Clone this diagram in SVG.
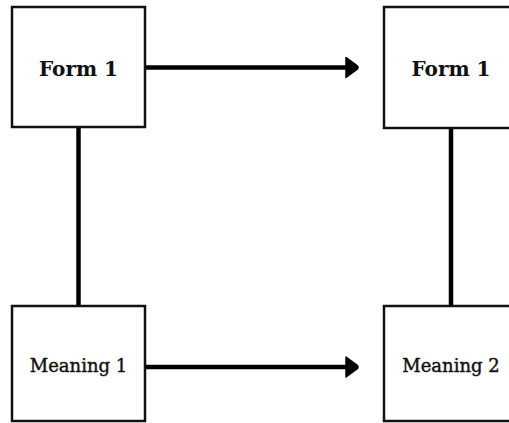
<svg xmlns="http://www.w3.org/2000/svg" width="509" height="423" viewBox="0 0 509 423">
<style>
.box{fill:#fff;stroke:#111;stroke-width:2.5}
.lbl{font-family:"DejaVu Serif","Liberation Serif",serif;fill:#111;text-anchor:middle}
.f{font-size:20px;font-weight:bold}
.m{font-size:18px;stroke:#111;stroke-width:0.4}
.c{stroke:#000;stroke-width:4.5;fill:none}
</style>
<defs>
<marker id="ah" markerUnits="userSpaceOnUse" markerWidth="16" markerHeight="22" refX="2" refY="11" orient="auto">
<path d="M2,1 L13,9 Q15,11 13,13 L2,21 Z" fill="#000" stroke="#000" stroke-width="1.5" stroke-linejoin="round"/>
</marker>
</defs>
<g id="connectors">
<line class="c" x1="146" y1="67.5" x2="346" y2="67.5" marker-end="url(#ah)"/>
<line class="c" x1="146" y1="367" x2="346" y2="367" marker-end="url(#ah)"/>
<line class="c" x1="78.5" y1="127" x2="78.5" y2="306"/>
<line class="c" x1="451" y1="128" x2="451" y2="306"/>
</g>
<g id="form1a"><rect class="box" x="12" y="7" width="133" height="120"/><text class="lbl f" x="78.5" y="76">Form 1</text></g>
<g id="form1b"><rect class="box" x="384" y="7" width="134" height="121"/><text class="lbl f" x="451" y="76">Form 1</text></g>
<g id="meaning1"><rect class="box" x="12" y="306" width="133" height="115"/><text class="lbl m" x="78.5" y="372">Meaning 1</text></g>
<g id="meaning2"><rect class="box" x="384" y="306" width="134" height="115"/><text class="lbl m" x="451" y="372">Meaning 2</text></g>
</svg>
